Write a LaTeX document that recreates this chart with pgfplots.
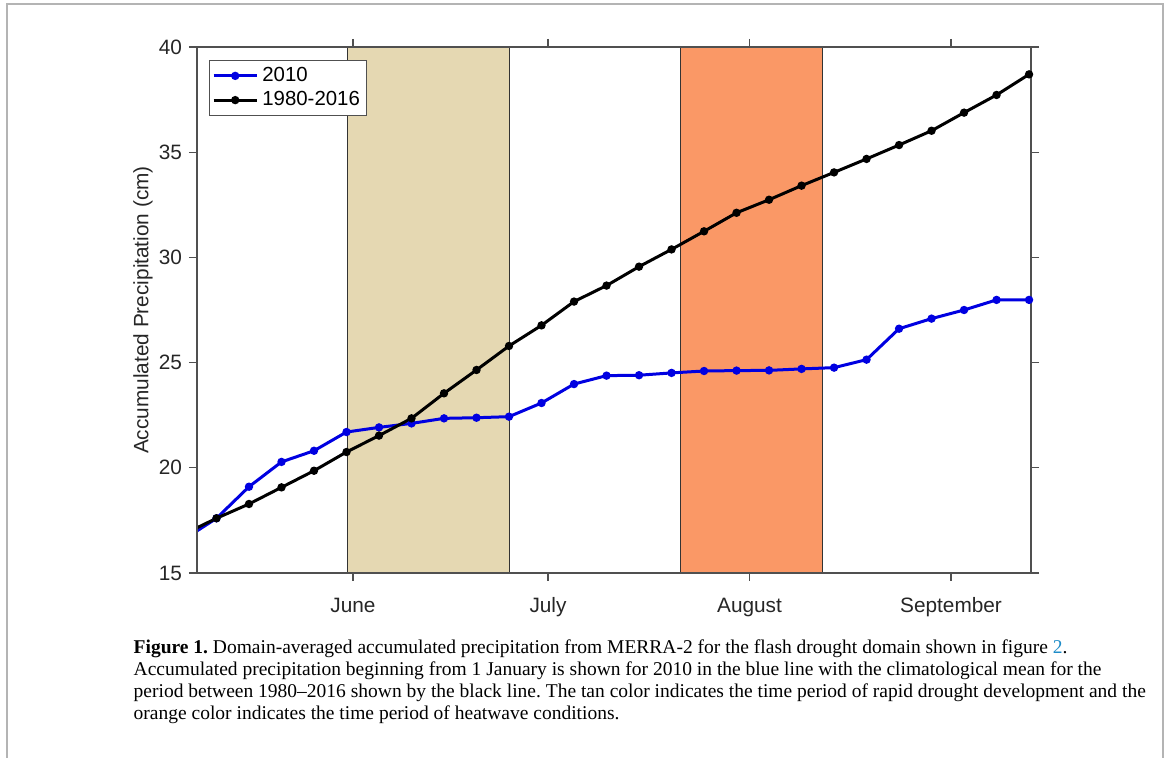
\documentclass[border=0pt]{standalone}
\usepackage{pgfplots}
\pgfplotsset{compat=1.18}
\usepackage{fontspec}
\setmainfont{Liberation Sans}
\newfontfamily\capfont{Liberation Serif}
\definecolor{tanc}{RGB}{229,216,178}
\definecolor{orangec}{RGB}{250,152,102}
\definecolor{blu}{RGB}{0,0,225}
\definecolor{axgray}{RGB}{80,80,80}
\definecolor{framegray}{RGB}{180,180,180}
\definecolor{linkblue}{RGB}{30,140,200}
\frenchspacing
\begin{document}
\begin{tikzpicture}
\begin{scope}[x=0.5pt,y=0.5pt]
\path (-197,-185) rectangle (970,573);
\draw[framegray, line width=1pt] (-190,-185) -- (-190,569) -- (966,569) -- (966,-185);
\end{scope}
\begin{axis}[
  at={(0,0)}, anchor=south west,
  scale only axis, width=417pt, height=263pt,
  xmin=-24, xmax=104.3, ymin=15, ymax=40,
  xtick={0,30,61,92}, xticklabels={June,July,August,September},
  ytick={15,20,25,30,35,40},
  tick align=outside, major tick length=4pt,
  axis line style={axgray, line width=0.6pt},
  tick style={axgray, line width=0.6pt},
  ticklabel style={font=\fontsize{10.4}{12}\selectfont, text=black!85},
  xticklabel style={text height=1.6ex, text depth=0.5ex, yshift=-4pt},
  /pgf/number format/assume math mode=true,
  ylabel={Accumulated Precipitation (cm)},
  ylabel style={font=\fontsize{10.4}{12}\selectfont, text=black!85, at={(axis description cs:-0.0647,0.5)}, anchor=center},
  legend style={at={(0.0144,0.975)}, anchor=north west, draw=axgray, line width=0.5pt,
    font=\fontsize{10.2}{12}\selectfont, inner sep=1.3pt, row sep=-0.5pt},
  legend cell align=left,
  legend image code/.code={\draw[mark repeat=2,mark phase=2] plot coordinates {(0cm,0cm)(0.38cm,0cm)(0.76cm,0cm)};},
  axis on top,
]
\addplot[forget plot, fill=tanc, draw=black!80, line width=0.5pt] coordinates {(-0.9,15) (-0.9,40) (24.15,40) (24.15,15)} -- cycle;
\addplot[forget plot, fill=orangec, draw=black!80, line width=0.5pt] coordinates {(50.45,15) (50.45,40) (72.2,40) (72.2,15)} -- cycle;
\addplot[blu, line width=1.5pt, mark=*, mark size=1.3pt] coordinates {
(-26,16.6) (-21,17.60) (-16,19.10) (-11,20.28) (-6,20.81) (-1,21.70) (4,21.92) (9,22.11) (14,22.35) (19,22.38) (24,22.43)
(29,23.08) (34,23.98) (39,24.38) (44,24.40) (49,24.51) (54,24.60) (59,24.62) (64,24.63) (69,24.70) (74,24.76)
(79,25.14) (84,26.61) (89,27.09) (94,27.50) (99,27.98) (104,27.98)};
\addlegendentry{2010}
\addplot[black, line width=1.5pt, mark=*, mark size=1.3pt] coordinates {
(-26,16.85) (-21,17.60) (-16,18.28) (-11,19.07) (-6,19.86) (-1,20.75) (4,21.53) (9,22.35) (14,23.54) (19,24.65) (24,25.79)
(29,26.77) (34,27.90) (39,28.66) (44,29.56) (49,30.38) (54,31.24) (59,32.12) (64,32.74) (69,33.41) (74,34.04)
(79,34.68) (84,35.34) (89,36.02) (94,36.88) (99,37.72) (104,38.70)};
\addlegendentry{1980-2016}
\end{axis}
\begin{scope}[x=0.5pt,y=0.5pt]
\begin{scope}[every node/.style={anchor=base west, inner sep=0pt, font=\capfont\fontsize{9.75}{12}\selectfont}]
\node at (-63.7,-81) {\textbf{Figure 1.} Domain-averaged accumulated precipitation from MERRA-2 for the flash drought domain shown in figure \textcolor{linkblue}{2}.};
\node at (-63.7,-103) {Accumulated precipitation beginning from 1 January is shown for 2010 in the blue line with the climatological mean for the};
\node at (-63.7,-125) {period between 1980–2016 shown by the black line. The tan color indicates the time period of rapid drought development and the};
\node at (-63.7,-147) {orange color indicates the time period of heatwave conditions.};
\end{scope}
\end{scope}
\end{tikzpicture}
\end{document}
